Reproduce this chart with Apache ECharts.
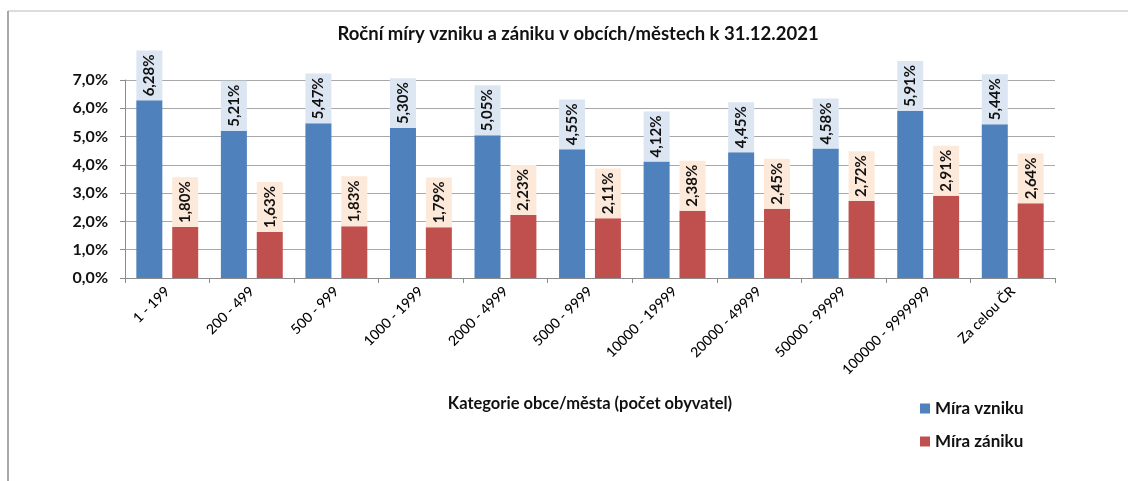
<!DOCTYPE html>
<html>
<head>
<meta charset="utf-8">
<script src="https://cdn.jsdelivr.net/npm/echarts@6/dist/echarts.min.js"></script>
<style>
html,body{margin:0;padding:0;background:#fff;}
#c{width:1128px;height:481px;}
</style>
</head>
<body>
<div id="c"></div>
<script>
var categories = ['1 - 199', '200 - 499', '500 - 999', '1000 - 1999', '2000 - 4999', '5000 - 9999', '10000 - 19999', '20000 - 49999', '50000 - 99999', '100000 - 9999999', 'Za celou ČR'];
var miraVzniku = [6.28, 5.21, 5.47, 5.30, 5.05, 4.55, 4.12, 4.45, 4.58, 5.91, 5.44];
var miraZaniku = [1.80, 1.63, 1.83, 1.79, 2.23, 2.11, 2.38, 2.45, 2.72, 2.91, 2.64];
var yTicks = [0, 1, 2, 3, 4, 5, 6, 7];

var FONT = 'Lato';
function pct(v, d) { return v.toFixed(d).replace('.', ',') + '%'; }

var chart = echarts.init(document.getElementById('c'));
function labelCfg(bg) {
  return {
    show: true,
    position: 'top',
    distance: 0,
    rotate: 90,
    align: 'left',
    verticalAlign: 'middle',
    fontFamily: FONT,
    fontWeight: 'bold',
    fontSize: 15,
    color: '#111',
    lineHeight: 16,
    padding: [5, 4, 5, 4],
    backgroundColor: bg,
    formatter: function (p) { return pct(p.value, 2); }
  };
}
chart.setOption({
  animation: false,
  backgroundColor: '#fff',
  title: {
    text: 'Roční míry vzniku a zániku v obcích/městech k 31.12.2021',
    left: 573,
    textAlign: 'center',
    top: 20,
    textStyle: { fontFamily: FONT, fontWeight: 'bold', fontSize: 18.5, color: '#111' }
  },
  legend: {
    orient: 'vertical',
    left: 915,
    top: 395,
    itemWidth: 10,
    itemHeight: 10,
    itemGap: 16,
    icon: 'rect',
    textStyle: { fontFamily: FONT, fontWeight: 'bold', fontSize: 17, color: '#111' },
    data: ['Míra vzniku', 'Míra zániku']
  },
  grid: { left: 125, right: 73, top: 80, bottom: 203, containLabel: false },
  xAxis: {
    type: 'category',
    data: categories,
    name: 'Kategorie obce/města (počet obyvatel)',
    nameLocation: 'middle',
    nameGap: 117,
    nameTextStyle: { fontFamily: FONT, fontWeight: 'bold', fontSize: 16.5, color: '#111' },
    axisLine: { lineStyle: { color: '#8c8c8c', width: 1 } },
    axisTick: { show: true, length: 5, lineStyle: { color: '#8c8c8c' } },
    axisLabel: { rotate: 45, margin: 11, interval: 0, fontFamily: FONT, fontWeight: 500, fontSize: 14, color: '#000' }
  },
  yAxis: {
    type: 'value',
    min: 0,
    max: 7,
    interval: 1,
    axisLine: { show: true, lineStyle: { color: '#8c8c8c' } },
    axisTick: { show: true, length: 5, lineStyle: { color: '#8c8c8c' } },
    splitLine: { lineStyle: { color: '#a8a8a8' } },
    axisLabel: {
      margin: 17,
      fontFamily: FONT, fontWeight: 'bold', fontSize: 16, color: '#111',
      formatter: function (v) { return yTicks.indexOf(v) >= 0 ? pct(v, 1) : ''; }
    }
  },
  series: [
    {
      name: 'Míra vzniku',
      type: 'bar',
      data: miraVzniku,
      barWidth: 26,
      barGap: '38%',
      itemStyle: { color: '#4f81bd' },
      label: labelCfg('#dce6f2')
    },
    {
      name: 'Míra zániku',
      type: 'bar',
      data: miraZaniku,
      barWidth: 26,
      itemStyle: { color: '#c0504d' },
      label: labelCfg('#fde9d9')
    }
  ],
  graphic: [
    { type: 'line', shape: { x1: 8, y1: 11, x2: 1128, y2: 11 }, style: { stroke: '#dcdcdc', lineWidth: 2 } },
    { type: 'line', shape: { x1: 8, y1: 11, x2: 8, y2: 481 }, style: { stroke: '#a8a8a8', lineWidth: 2 } }
  ]
});
</script>
</body>
</html>
